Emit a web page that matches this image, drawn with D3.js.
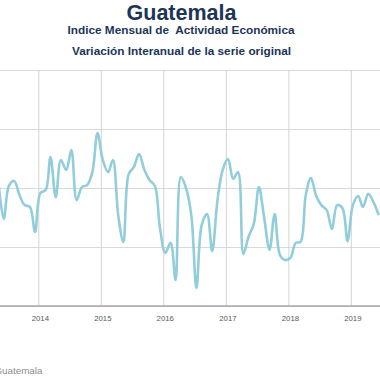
<!DOCTYPE html>
<html>
<head>
<meta charset="utf-8">
<script src="https://cdn.jsdelivr.net/npm/d3@7"></script>
<style>
  html, body { margin: 0; padding: 0; background: #fff; }
  svg { display: block; }
  text { white-space: pre; }
</style>
</head>
<body>
<script>
// ---- data ----
const title = "Guatemala";
const subtitle1 = "Indice Mensual de  Actividad Económica";
const subtitle2 = "Variación Interanual de la serie original";
const seriesName = "Guatemala";
const firstMonth = "2013-05";
const values = [
  4.20, 2.95, 4.07, 4.24, 3.76, 3.42, 3.36, 2.51,             // May-Dec 2013
  3.83, 3.93, 5.05, 3.69, 4.95, 4.61, 5.29, 3.59, 4.03, 4.10, 4.54, 5.86, // 2014
  4.95, 4.54, 4.95, 3.08, 2.17, 4.47, 4.71, 5.15, 4.61, 4.27, 4.07, 2.64, // 2015
  1.80, 2.14, 0.88, 4.37, 4.00, 3.08, 0.61, 2.75, 3.12, 1.86, 3.59, 4.61, // 2016
  4.98, 4.31, 4.54, 1.76, 2.34, 2.78, 4.03, 2.98, 1.90, 3.12, 1.73, 1.56, // 2017
  1.63, 2.14, 2.17, 3.76, 4.34, 3.73, 3.42, 3.25, 2.61, 3.42, 3.32, 2.20, // 2018
  3.42, 3.73, 3.36, 3.80, 3.53, 3.08                                       // Jan-Jun 2019
];
const yearTicks = ["2014", "2015", "2016", "2017", "2018", "2019"];
const yTicks = [0, 2, 4, 6, 8];

// ---- chart ----
const W = 380, H = 380;
const svg = d3.select("body").append("svg").attr("width", W).attr("height", H);

const parseMonth = d3.timeParse("%Y-%m");
const parseYear = d3.timeParse("%Y");
const start = parseMonth(firstMonth);
const dates = values.map((v, i) => d3.timeMonth.offset(start, i));
const data = dates.map((d, i) => ({ date: d, value: values[i] }));

const x = d3.scaleTime()
  .domain([parseYear("2014"), parseYear("2019")])
  .range([38.3, 350.8]);
const y = d3.scaleLinear().domain([0, 8]).range([306, 70]);

// mid-month placement of monthly points
const px = d => x(d3.timeDay.offset(d, 12));

// horizontal gridlines
svg.append("g")
  .attr("transform", `translate(${W + 5},0)`)
  .call(d3.axisLeft(y).tickValues(yTicks).tickSize(-(W + 10)).tickFormat(""))
  .call(g => g.select(".domain").remove())
  .call(g => g.selectAll(".tick line")
    .attr("x1", 0).attr("x2", -(W + 10))
    .attr("stroke", "#d9d9d9").attr("stroke-width", 1));

// vertical gridlines at year boundaries
svg.append("g")
  .attr("transform", "translate(0,306)")
  .call(d3.axisBottom(x).tickValues(yearTicks.map(parseYear)).tickSize(-236).tickFormat(""))
  .call(g => g.select(".domain").remove())
  .call(g => g.selectAll(".tick line").attr("stroke", "#d4d4d4").attr("stroke-width", 1));

// bottom axis line
svg.append("line")
  .attr("x1", 0).attr("x2", W).attr("y1", y(0)).attr("y2", y(0))
  .attr("stroke", "#a6a6a6").attr("stroke-width", 1.3);

// year labels (centred at January point)
svg.append("g").selectAll("text")
  .data(yearTicks)
  .join("text")
  .attr("x", d => px(parseYear(d)))
  .attr("y", 321)
  .attr("text-anchor", "middle")
  .attr("font-family", "Liberation Sans, Arial, sans-serif")
  .attr("font-size", 7.8)
  .attr("fill", "#595959")
  .text(d => d);

// series line
const line = d3.line()
  .x(d => px(d.date))
  .y(d => y(d.value))
  .curve(d3.curveCatmullRom.alpha(0.5));

svg.append("path")
  .datum(data)
  .attr("d", line)
  .attr("fill", "none")
  .attr("stroke", "#92cddc")
  .attr("stroke-width", 2.6)
  .attr("stroke-linejoin", "round");

// titles
const tf = "Liberation Sans, Arial, sans-serif";
svg.append("text").attr("x", 181.5).attr("y", 19.5)
  .attr("text-anchor", "middle").attr("font-family", tf)
  .attr("font-weight", "bold").attr("font-size", 21.5).attr("fill", "#1c3557")
  .text(title);
svg.append("text").attr("x", 181).attr("y", 34)
  .attr("text-anchor", "middle").attr("font-family", tf)
  .attr("font-weight", "bold").attr("font-size", 11.8).attr("fill", "#1c3557")
  .text(subtitle1);
svg.append("text").attr("x", 181.5).attr("y", 54.5)
  .attr("text-anchor", "middle").attr("font-family", tf)
  .attr("font-weight", "bold").attr("font-size", 11.8).attr("fill", "#1c3557")
  .text(subtitle2);

// legend (partially cut off at left, as in the reference)
svg.append("text").attr("x", -5.5).attr("y", 374)
  .attr("font-family", tf).attr("font-size", 9.8).attr("fill", "#8c8c8c")
  .text(seriesName);
</script>
</body>
</html>
